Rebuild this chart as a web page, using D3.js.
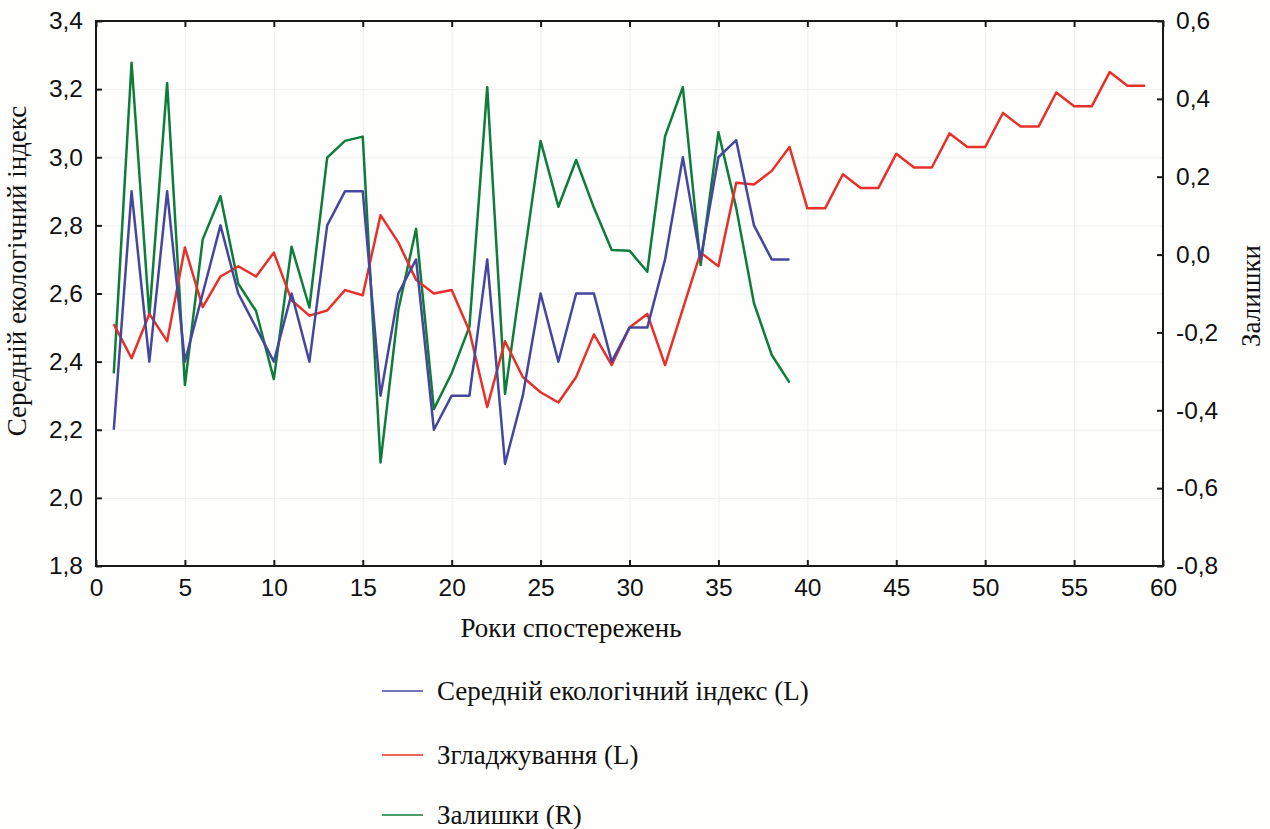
<!DOCTYPE html>
<html>
<head>
<meta charset="utf-8">
<script src="https://cdn.jsdelivr.net/npm/d3@7"></script>
<style>
  body { margin: 0; background: #fefefc; }
  svg { display: block; }
</style>
</head>
<body>
<div id="chart"></div>
<script>
// values
var years = d3.range(1, 60);
var indexValues = [2.2, 2.9, 2.4, 2.9, 2.4, 2.6, 2.8, 2.6, 2.5, 2.4,
                   2.6, 2.4, 2.8, 2.9, 2.9, 2.3, 2.6, 2.7, 2.2, 2.3,
                   2.3, 2.7, 2.1, 2.3, 2.6, 2.4, 2.6, 2.6, 2.4, 2.5,
                   2.5, 2.7, 3.0, 2.7, 3.0, 3.05, 2.8, 2.7, 2.7];
var smoothValues = [2.51, 2.41, 2.54, 2.46, 2.735, 2.56, 2.65, 2.68, 2.65, 2.72,
                    2.58, 2.535, 2.55, 2.61, 2.595, 2.83, 2.75, 2.64, 2.60, 2.61,
                    2.49, 2.267, 2.46, 2.355, 2.31, 2.28, 2.355, 2.48, 2.39, 2.50,
                    2.54, 2.39, 2.555, 2.72, 2.68, 2.925, 2.92, 2.96, 3.03, 2.85,
                    2.85, 2.95, 2.91, 2.91, 3.01, 2.97, 2.97, 3.07, 3.03, 3.03,
                    3.13, 3.09, 3.09, 3.19, 3.15, 3.15, 3.25, 3.21, 3.21];
var residValues = [-0.305, 0.493, -0.158, 0.441, -0.335, 0.039, 0.150, -0.075, -0.145, -0.32,
                   0.02, -0.136, 0.249, 0.292, 0.303, -0.534, -0.142, 0.066, -0.397, -0.305,
                   -0.185, 0.43, -0.358, -0.031, 0.292, 0.123, 0.243, 0.12, 0.012, 0.010,
                   -0.044, 0.304, 0.43, -0.027, 0.314, 0.12, -0.125, -0.258, -0.329];
var xTicks = d3.range(0, 61, 5);
var leftTicks = [1.8, 2.0, 2.2, 2.4, 2.6, 2.8, 3.0, 3.2, 3.4];
var rightTicks = [-0.8, -0.6, -0.4, -0.2, 0.0, 0.2, 0.4, 0.6];
var seriesNames = ["Середній екологічний індекс (L)", "Згладжування (L)", "Залишки (R)"];
var seriesColors = ["#46479c", "#e8302a", "#0e7d3b"];

var W = 1270, H = 829;
var margin = {top: 21, right: 107, bottom: 263, left: 96};
var width = W - margin.left - margin.right,
    height = H - margin.top - margin.bottom;

var svg = d3.select("#chart").append("svg")
    .attr("width", W)
    .attr("height", H);

var g = svg.append("g")
    .attr("transform", "translate(" + margin.left + "," + margin.top + ")");

var x = d3.scaleLinear().domain([0, 60]).range([0, width]);
var yL = d3.scaleLinear().domain([1.8, 3.4]).range([height, 0]);
var yR = d3.scaleLinear().domain([-0.8, 0.6]).range([height, 0]);

var fmt = function(d) { return d3.format(".1f")(d).replace(".", ",").replace("−", "-"); };

// gridlines
g.append("g")
    .attr("class", "grid")
    .call(d3.axisBottom(x).tickValues(xTicks).tickSize(height).tickFormat(""))
    .call(function(s) { s.select(".domain").remove(); });

g.append("g")
    .attr("class", "grid")
    .call(d3.axisLeft(yL).tickValues(leftTicks).tickSize(-width).tickFormat(""))
    .call(function(s) { s.select(".domain").remove(); });

g.selectAll(".grid line").attr("stroke", "#efefef").attr("stroke-width", 1);

// lines
function drawLine(xs, ys, yScale, color) {
    var line = d3.line()
        .x(function(d, i) { return x(xs[i]); })
        .y(function(d) { return yScale(d); });
    g.append("path")
        .datum(ys)
        .attr("fill", "none")
        .attr("stroke", color)
        .attr("stroke-width", 2.5)
        .attr("stroke-linejoin", "round")
        .attr("d", line);
}

drawLine(years, residValues, yR, seriesColors[2]);
drawLine(years, smoothValues, yL, seriesColors[1]);
drawLine(years, indexValues, yL, seriesColors[0]);

// frame
g.append("rect")
    .attr("width", width).attr("height", height)
    .attr("fill", "none").attr("stroke", "#1a1a1a").attr("stroke-width", 2);

// axes (ticks inward)
var axisFont = "'Liberation Sans', Arial, sans-serif";

var xAxis = g.append("g")
    .attr("transform", "translate(0," + height + ")")
    .call(d3.axisBottom(x).tickValues(xTicks).tickSizeInner(-6).tickSizeOuter(0).tickPadding(13));

var xTop = g.append("g")
    .call(d3.axisTop(x).tickValues(xTicks).tickSizeInner(-6).tickSizeOuter(0).tickFormat(""));

var leftAxis = g.append("g")
    .call(d3.axisLeft(yL).tickValues(leftTicks).tickSizeInner(-6).tickSizeOuter(0).tickPadding(13).tickFormat(fmt));

var rightAxis = g.append("g")
    .attr("transform", "translate(" + width + ",0)")
    .call(d3.axisRight(yR).tickValues(rightTicks).tickSizeInner(-6).tickSizeOuter(0).tickPadding(13).tickFormat(fmt));

[xAxis, xTop, leftAxis, rightAxis].forEach(function(a) {
    a.select(".domain").remove();
    a.selectAll("line").attr("stroke", "#1a1a1a").attr("stroke-width", 2);
    a.selectAll("text")
        .attr("fill", "#111")
        .style("font-family", axisFont)
        .style("font-size", "24.5px");
});

// axis titles
var serif = "'Liberation Serif', 'Times New Roman', serif";

svg.append("text")
    .attr("transform", "translate(26,271) rotate(-90)")
    .attr("text-anchor", "middle")
    .style("font-family", serif)
    .style("font-size", "27px")
    .attr("fill", "#111")
    .text("Середній екологічний індекс");

svg.append("text")
    .attr("transform", "translate(1260,296) rotate(-90)")
    .attr("text-anchor", "middle")
    .style("font-family", serif)
    .style("font-size", "27px")
    .attr("fill", "#111")
    .text("Залишки");

svg.append("text")
    .attr("x", 571)
    .attr("y", 637)
    .attr("text-anchor", "middle")
    .style("font-family", serif)
    .style("font-size", "27px")
    .attr("fill", "#111")
    .text("Роки спостережень");

// legend
var legendY = [691, 755, 815];
var legend = svg.append("g");
seriesNames.forEach(function(name, i) {
    legend.append("line")
        .attr("x1", 382).attr("x2", 423)
        .attr("y1", legendY[i]).attr("y2", legendY[i])
        .attr("stroke", seriesColors[i]).attr("stroke-width", 1.5);
    legend.append("text")
        .attr("x", 437)
        .attr("y", legendY[i] + 9)
        .style("font-family", serif)
        .style("font-size", "27px")
        .attr("fill", "#111")
        .text(name);
});
</script>
</body>
</html>
